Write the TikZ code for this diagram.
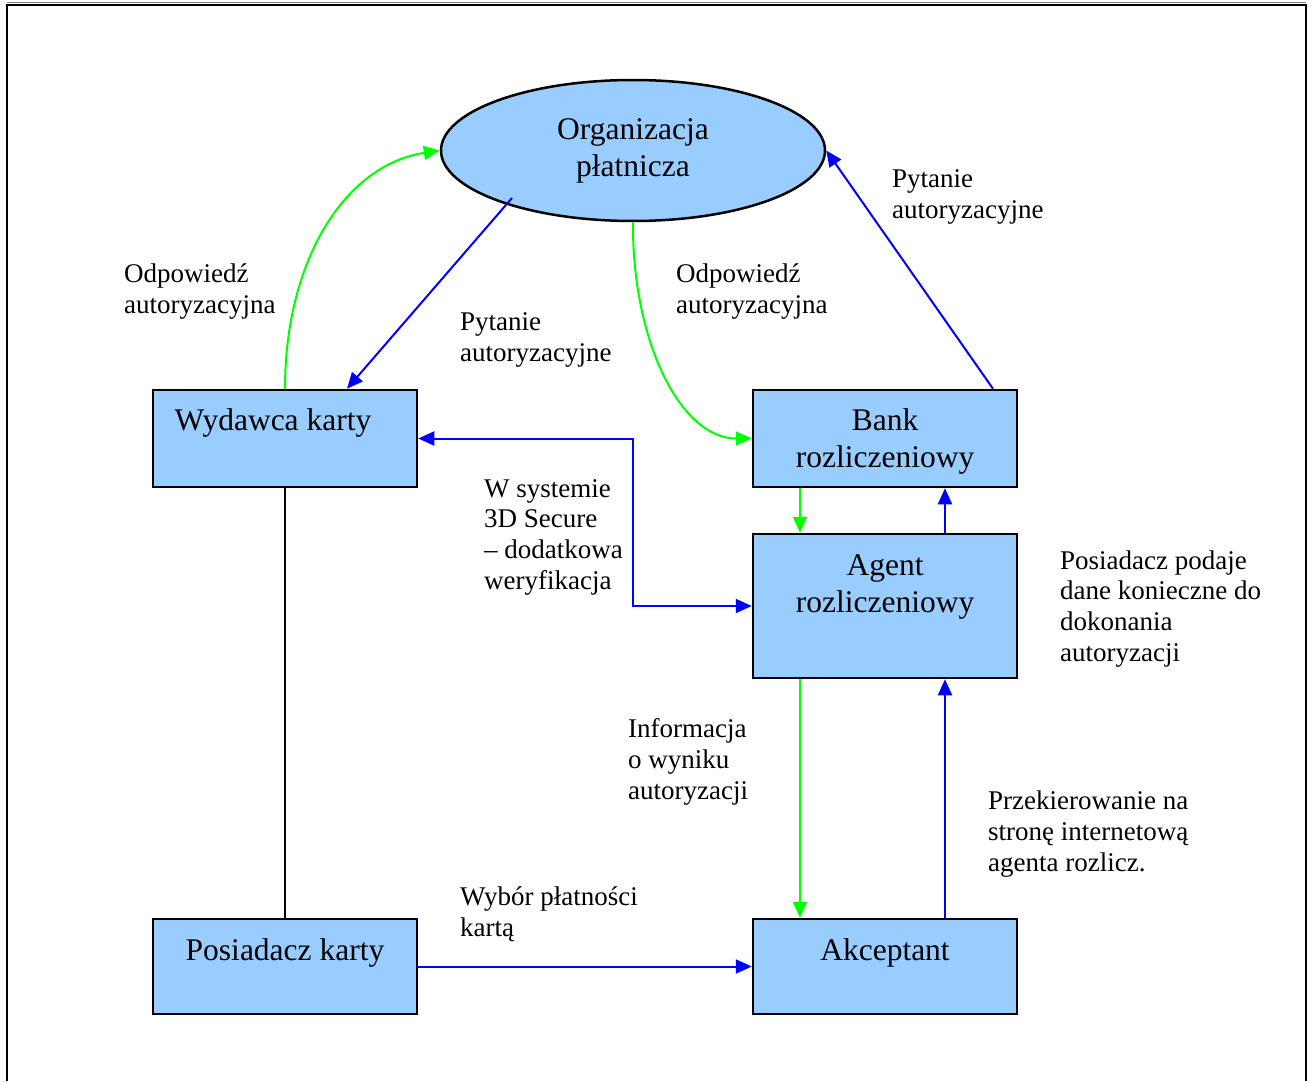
\documentclass[tikz,border=0pt]{standalone}
\usepackage{fontspec}
\setmainfont{Liberation Serif}
\usetikzlibrary{arrows.meta,shapes.geometric,calc}
\definecolor{boxfill}{HTML}{99CCFF}
\definecolor{gline}{HTML}{00FF00}
\definecolor{bline}{HTML}{0000FF}
\newcommand{\lblfont}{\fontsize{27}{30.6}\selectfont}
\newcommand{\boxfont}{\fontsize{31.5}{37}\selectfont}
\tikzset{
  boxnode/.style={draw=black, line width=2.5pt, fill=boxfill, rectangle, inner sep=0pt, minimum width=264pt},
  boxtext/.style={font=\boxfont, align=center, inner sep=0pt, anchor=base},
  lbl/.style={font=\lblfont, align=left, inner sep=0pt, anchor=base west},
  garrow/.style={draw=gline, line width=2pt, -{Triangle[length=16pt,width=14pt]}},
  barrow/.style={draw=bline, line width=2pt, -{Triangle[length=16pt,width=14pt]}},
  bdarrow/.style={draw=bline, line width=2pt, {Triangle[length=16pt,width=14pt]}-{Triangle[length=16pt,width=14pt]}},
}
\begin{document}
\begin{tikzpicture}[x=1pt,y=-1pt]
\useasboundingbox (0,0) rectangle (1311,1081);
% frame
\draw[line width=2pt] (7,1081) -- (7,5) -- (1306,5) -- (1306,1081);
\draw[line width=1pt, gray] (7,2.5) -- (1306,2.5);

% nodes
\node[ellipse, draw=black, line width=2.5pt, fill=boxfill, minimum width=384pt, minimum height=141pt, inner sep=0pt,
      font=\boxfont, align=center] (org) at (633,150.5) {Organizacja\\płatnicza};
\node[boxnode, minimum height=97pt] (wyd) at (285,438.5) {};
\node[boxnode, minimum height=97pt] (bank) at (885,438.5) {};
\node[boxnode, minimum height=144pt] (agent) at (885,606) {};
\node[boxnode, minimum height=95pt] (pos) at (285,966.5) {};
\node[boxnode, minimum height=95pt] (akc) at (885,966.5) {};

% box texts (anchor base = baseline of the last line)
\node[boxtext] (twyd) at (273,430) {Wydawca karty};
\node[boxtext] (tbank) at (885,467) {Bank\\rozliczeniowy};
\node[boxtext] (tagent) at (885,612) {Agent\\rozliczeniowy};
\node[boxtext] (tpos) at (285,960) {Posiadacz karty};
\node[boxtext] (takc) at (885,960) {Akceptant};

% labels (anchor base west = baseline of the last line)
\node[lbl] (l1) at (124,313) {Odpowiedź\\autoryzacyjna};
\node[lbl] (l2) at (460,361) {Pytanie\\autoryzacyjne};
\node[lbl] (l3) at (676,313) {Odpowiedź\\autoryzacyjna};
\node[lbl] (l4) at (892,218) {Pytanie\\autoryzacyjne};
\node[lbl] (l5) at (484,589) {W systemie\\3D Secure\\– dodatkowa\\weryfikacja};
\node[lbl] (l6) at (1060,661) {Posiadacz podaje\\dane konieczne do\\dokonania\\autoryzacji};
\node[lbl] (l7) at (628,799) {Informacja\\o wyniku\\autoryzacji};
\node[lbl] (l8) at (988,871) {Przekierowanie na\\stronę internetową\\agenta rozlicz.};
\node[lbl] (l9) at (460,936) {Wybór płatności\\kartą};

% connectors
\coordinate (ostart) at (512,198);
\draw[garrow] (wyd.north) .. controls (285,260) and (345,165) .. (org.west);
\draw[barrow] (ostart) -- ([xshift=62pt]wyd.north);
\draw[garrow] (org.south) .. controls (632,340) and (680,438.5) .. (bank.west);
\draw[barrow] ([xshift=108pt]bank.north) -- (org.east);
\draw[bdarrow] (wyd.east) -- (wyd.east -| org.south) |- (agent.west);
\draw[garrow] ([xshift=-85pt]bank.south) -- ([xshift=-85pt]agent.north);
\draw[barrow] ([xshift=60pt]agent.north) -- ([xshift=60pt]bank.south);
\draw[garrow] ([xshift=-85pt]agent.south) -- ([xshift=-85pt]akc.north);
\draw[barrow] ([xshift=60pt]akc.north) -- ([xshift=60pt]agent.south);
\draw[black, line width=2pt] (wyd.south) -- (pos.north);
\draw[barrow] (pos.east) -- (akc.west);
\end{tikzpicture}
\end{document}
